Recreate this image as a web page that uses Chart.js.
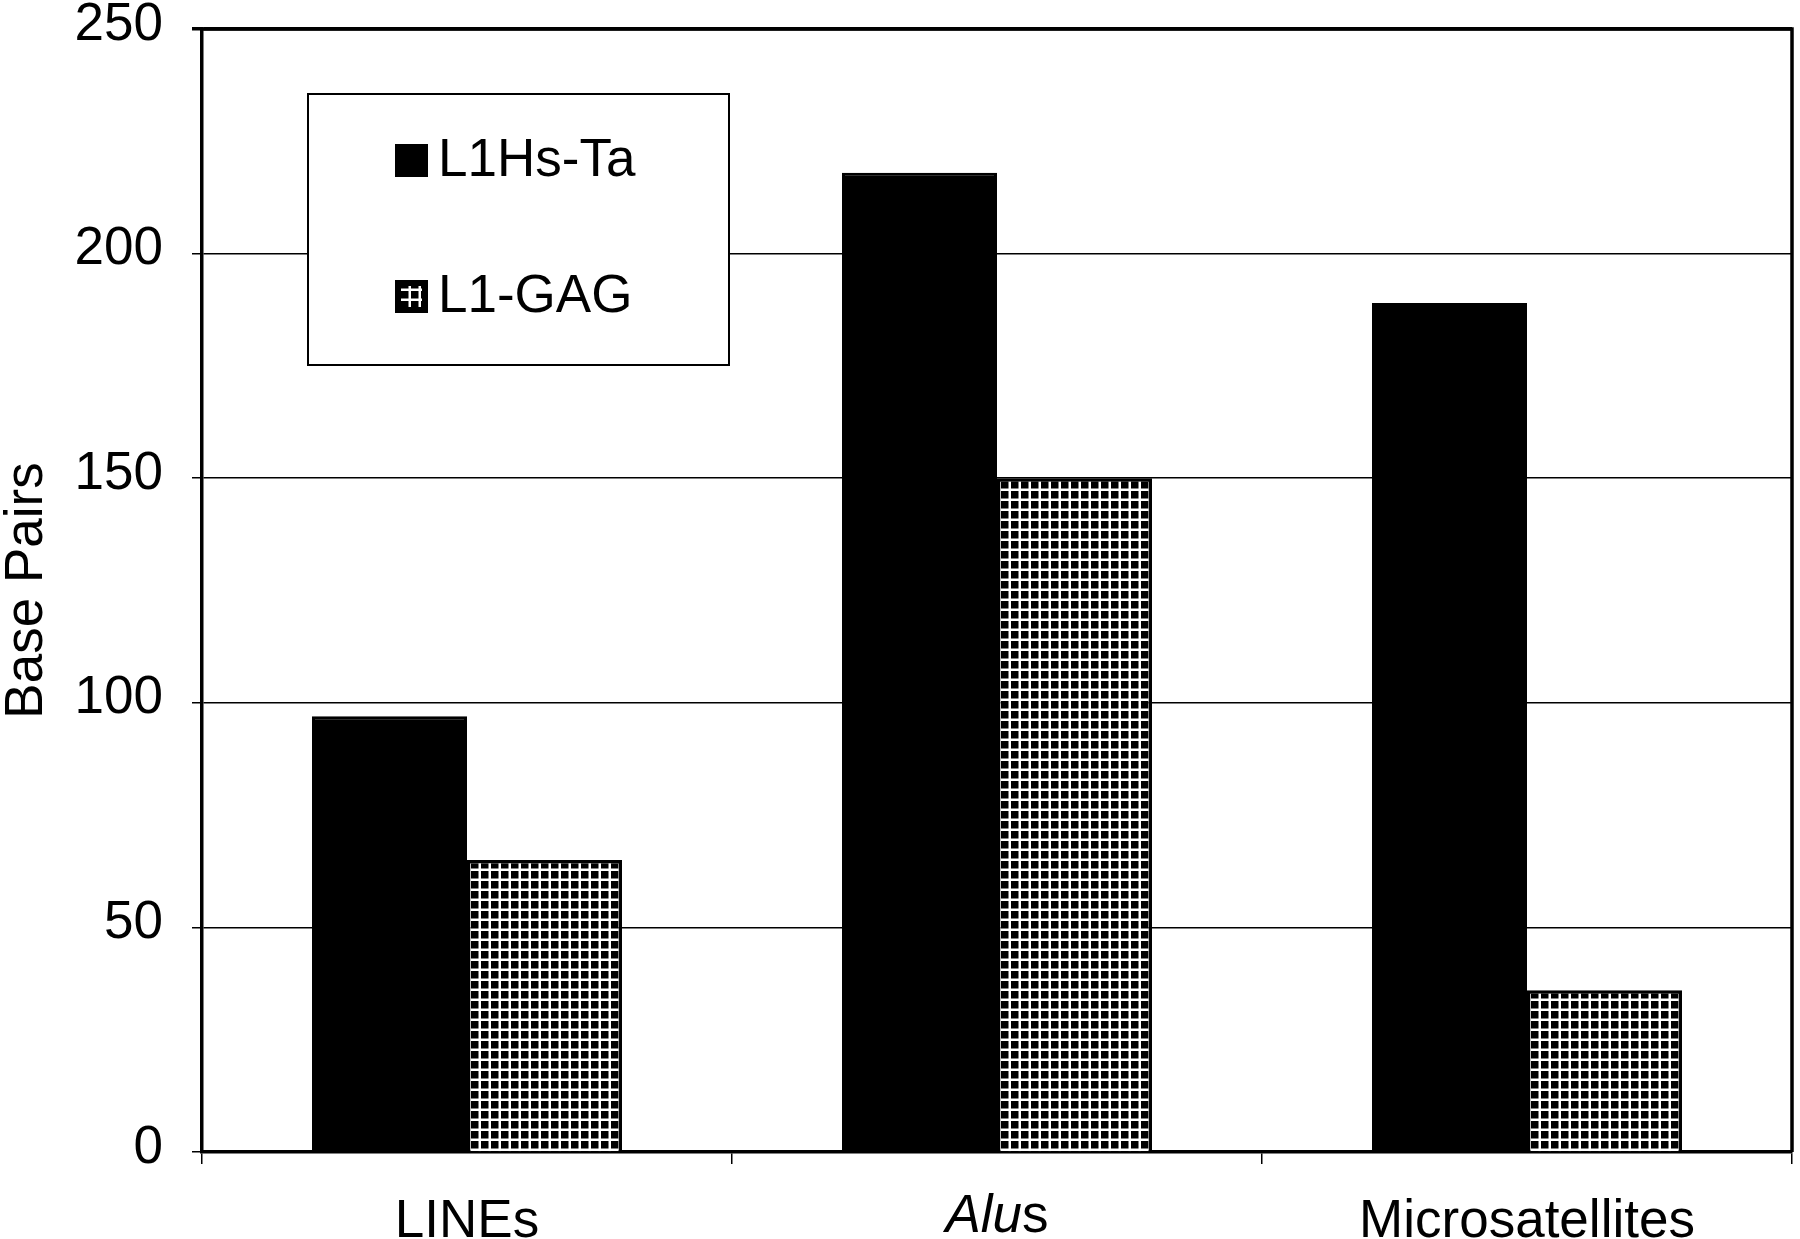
<!DOCTYPE html>
<html>
<head>
<meta charset="utf-8">
<script src="https://cdn.jsdelivr.net/npm/chart.js@4.4.1/dist/chart.umd.min.js"></script>
<style>
  html, body { margin: 0; padding: 0; background: #fff; }
  canvas { display: block; }
</style>
</head>
<body>
<canvas id="barChart" width="1800" height="1239"></canvas>
<script>
// Chart data
var categories = ["LINEs", "Alus", "Microsatellites"];
var seriesNames = ["L1Hs-Ta", "L1-GAG"];
var l1hsTa = [97, 218, 189];
var l1Gag = [65, 150, 36];
var yTicks = [0, 50, 100, 150, 200, 250];
var yTitle = "Base Pairs";
// part of a category label set in italics
var italicPart = { "Alus": "Alu" };

var FONT = "'Liberation Sans', Arial, Helvetica, sans-serif";
var ctx = document.getElementById('barChart').getContext('2d');

// dotted fill for the second series
function makeDots() {
  var c = document.createElement('canvas');
  c.width = 10; c.height = 10;
  var g = c.getContext('2d');
  g.fillStyle = '#fff';
  g.fillRect(0, 0, 10, 10);
  g.fillStyle = '#000';
  g.fillRect(1, 1, 7.5, 7.5);
  return ctx.createPattern(c, 'repeat');
}
var dots = makeDots();

// top and right sides of the plot frame
var framePlugin = {
  id: 'frame',
  afterDatasetsDraw: function(chart) {
    var a = chart.chartArea, g = chart.ctx;
    g.save();
    g.strokeStyle = '#000';
    g.lineWidth = 3.5;
    g.beginPath();
    g.moveTo(a.left, a.top);
    g.lineTo(a.right, a.top);
    g.lineTo(a.right, a.bottom);
    g.stroke();
    g.restore();
  }
};

// boxed legend inside the plot
var legendPlugin = {
  id: 'boxLegend',
  afterDatasetsDraw: function(chart) {
    var a = chart.chartArea, g = chart.ctx;
    var bx = a.left + 106, by = a.top + 65;
    g.save();
    g.fillStyle = '#fff';
    g.fillRect(bx, by, 421, 271);
    g.strokeStyle = '#000';
    g.lineWidth = 2;
    g.strokeRect(bx, by, 421, 271);
    g.font = '53px ' + FONT;
    g.textBaseline = 'alphabetic';
    g.textAlign = 'left';
    chart.data.datasets.forEach(function(ds, i) {
      var sx = bx + 87, sy = by + 50 + i * 136;
      g.fillStyle = '#000';
      g.fillRect(sx, sy, 33, 33);
      if (ds.backgroundColor !== '#000') {
        g.fillStyle = ds.backgroundColor;
        g.fillRect(sx + 6, sy + 6, 21, 21);
      }
      g.fillStyle = '#000';
      g.fillText(ds.label, sx + 43, sy + 32);
    });
    g.restore();
  }
};

// category labels with an italic part
var mixedLabelPlugin = {
  id: 'mixedLabels',
  afterDraw: function(chart) {
    var xs = chart.scales.x, g = chart.ctx;
    var y = xs.top + xs.options.grid.tickLength + xs.options.ticks.padding;
    g.save();
    g.fillStyle = '#000';
    g.textBaseline = 'top';
    g.textAlign = 'left';
    chart.data.labels.forEach(function(lab, i) {
      var it = italicPart[lab];
      if (!it) return;
      var rest = lab.slice(it.length);
      g.font = 'italic 53px ' + FONT;
      var w1 = g.measureText(it).width;
      g.font = '53px ' + FONT;
      var w2 = g.measureText(rest).width;
      var x0 = xs.getPixelForValue(i) - (w1 + w2) / 2;
      g.font = 'italic 53px ' + FONT;
      g.fillText(it, x0, y);
      g.font = '53px ' + FONT;
      g.fillText(rest, x0 + w1, y);
    });
    g.restore();
  }
};

var barChart = new Chart(ctx, {
  type: 'bar',
  data: {
    labels: categories,
    datasets: [
      {
        label: seriesNames[0],
        data: l1hsTa,
        backgroundColor: '#000',
        borderColor: '#000',
        borderWidth: 3
      },
      {
        label: seriesNames[1],
        data: l1Gag,
        backgroundColor: dots,
        borderColor: '#000',
        borderWidth: 3.5
      }
    ]
  },
  options: {
    responsive: false,
    animation: false,
    devicePixelRatio: 1,
    categoryPercentage: 0.585,
    barPercentage: 1,
    layout: { padding: { top: 29, right: 8, left: 0, bottom: 0 } },
    plugins: {
      legend: { display: false },
      tooltip: { enabled: false }
    },
    scales: {
      x: {
        grid: {
          offset: true,
          drawOnChartArea: false,
          drawTicks: true,
          tickLength: 12,
          color: '#000',
          lineWidth: 1.5
        },
        border: { display: true, color: '#000', width: 3.5 },
        ticks: {
          color: '#000',
          font: { family: FONT, size: 53 },
          padding: 27,
          maxRotation: 0,
          autoSkip: false,
          callback: function(v, i) {
            var lab = categories[i];
            return italicPart[lab] ? '' : lab;
          }
        },
        afterFit: function(scale) {
          scale.height = 87;
          scale.paddingLeft = 0;
          scale.paddingRight = 0;
        }
      },
      y: {
        min: 0,
        max: 250,
        afterBuildTicks: function(scale) {
          scale.ticks = yTicks.map(function(v) { return { value: v }; });
        },
        grid: {
          color: '#000',
          lineWidth: function(c) { return c.tick && c.tick.value === 250 ? 3.5 : 1.5; },
          tickLength: 10
        },
        border: { display: true, color: '#000', width: 3.5 },
        ticks: {
          color: '#000',
          font: { family: FONT, size: 53 },
          padding: 29,
          labelOffset: -4
        },
        title: {
          display: true,
          text: yTitle,
          color: '#000',
          font: { family: FONT, size: 53, lineHeight: 1 },
          padding: { top: 1, bottom: 0 }
        },
        afterFit: function(scale) {
          scale.width = 202;
          scale.paddingTop = 0;
          scale.paddingBottom = 0;
        }
      }
    }
  },
  plugins: [framePlugin, legendPlugin, mixedLabelPlugin]
});
</script>
</body>
</html>
